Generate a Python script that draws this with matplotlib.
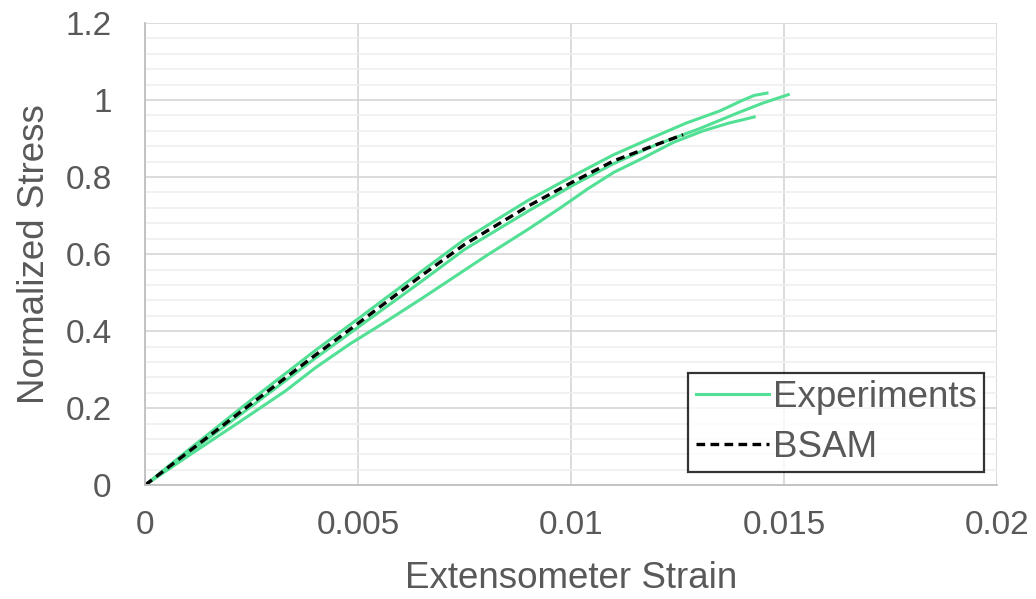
import matplotlib.pyplot as plt
from matplotlib.ticker import MultipleLocator

# test curves, strain vs normalized stress
exp1_strain = [0, 0.001, 0.0025, 0.004, 0.005, 0.0065, 0.0075, 0.009, 0.01, 0.011,
               0.0119, 0.0127, 0.0135, 0.014, 0.0143, 0.0146]
exp1_stress = [0, 0.09, 0.222, 0.35, 0.432, 0.556, 0.638, 0.74, 0.8, 0.858,
               0.902, 0.94, 0.972, 0.998, 1.012, 1.018]

exp2_strain = [0, 0.001, 0.0025, 0.004, 0.005, 0.0065, 0.0075, 0.009, 0.01, 0.011,
               0.012, 0.013, 0.0139, 0.0145, 0.0151]
exp2_stress = [0, 0.082, 0.205, 0.33, 0.41, 0.53, 0.612, 0.712, 0.776, 0.835,
               0.884, 0.925, 0.966, 0.992, 1.014]

exp3_strain = [0, 0.001, 0.0022, 0.0033, 0.004, 0.0048, 0.0057, 0.0065, 0.008,
               0.009, 0.00975, 0.0104, 0.011, 0.0117, 0.0124, 0.0131, 0.0137, 0.0143]
exp3_stress = [0, 0.075, 0.163, 0.245, 0.305, 0.366, 0.428, 0.485, 0.595,
               0.665, 0.72, 0.77, 0.812, 0.85, 0.89, 0.92, 0.94, 0.956]

# model prediction
bsam_strain = [0, 0.001, 0.0025, 0.004, 0.005, 0.0065, 0.0075, 0.009, 0.01, 0.011,
               0.0119, 0.01263]
bsam_stress = [0, 0.085, 0.212, 0.338, 0.42, 0.545, 0.625, 0.725, 0.785, 0.842,
               0.88, 0.91]

green = "#52e095"
grey = "#595959"

plt.rcParams["font.family"] = ["Liberation Sans", "DejaVu Sans"]

fig = plt.figure(figsize=(10.36, 5.99), dpi=100)
ax = fig.add_axes([0.14, 0.19, 0.8224, 0.7716])

ax.plot(exp1_strain, exp1_stress, color=green, lw=2.2, label="Experiments")
ax.plot(exp2_strain, exp2_stress, color=green, lw=2.2)
ax.plot(exp3_strain, exp3_stress, color=green, lw=2.2)
ax.plot(bsam_strain, bsam_stress, color="black", lw=2.4, ls=(0, (2.6, 1.6)), label="BSAM")

ax.set_xlim(0, 0.02)
ax.set_ylim(0, 1.2)
ax.yaxis.set_minor_locator(MultipleLocator(0.04))
ax.set_xticks([0, 0.005, 0.01, 0.015, 0.02])
ax.set_xticklabels(["0", "0.005", "0.01", "0.015", "0.02"])
ax.set_yticks([0, 0.2, 0.4, 0.6, 0.8, 1, 1.2])
ax.set_yticklabels(["0", "0.2", "0.4", "0.6", "0.8", "1", "1.2"])

ax.grid(which="major", color="#d9d9d9", lw=1.3)
ax.grid(which="minor", axis="y", color="#efefef", lw=1.2)
ax.set_axisbelow(True)
for side in ["top", "right"]:
    ax.spines[side].set_visible(False)
ax.spines["left"].set_color("#bfbfbf")
ax.spines["bottom"].set_color("#bfbfbf")
ax.spines["left"].set_linewidth(1.3)
ax.spines["bottom"].set_linewidth(1.3)

ax.tick_params(which="both", length=0)
ax.tick_params(axis="x", labelsize=24, labelcolor=grey, pad=18)
ax.tick_params(axis="y", labelsize=24, labelcolor=grey, pad=24)

ax.set_xlabel("Extensometer Strain", fontsize=26.5, color=grey, labelpad=14)
ax.set_ylabel("Normalized Stress", fontsize=26.5, color=grey, labelpad=10)

leg = ax.legend(loc="lower right", fontsize=26.5, frameon=True, fancybox=False,
                handlelength=2.0, handletextpad=0.1, borderpad=0.2,
                labelspacing=0.4, borderaxespad=0.35, labelcolor=grey)
leg.get_frame().set_edgecolor("black")
leg.get_frame().set_linewidth(1.6)

fig.savefig("out.png", dpi=100)
